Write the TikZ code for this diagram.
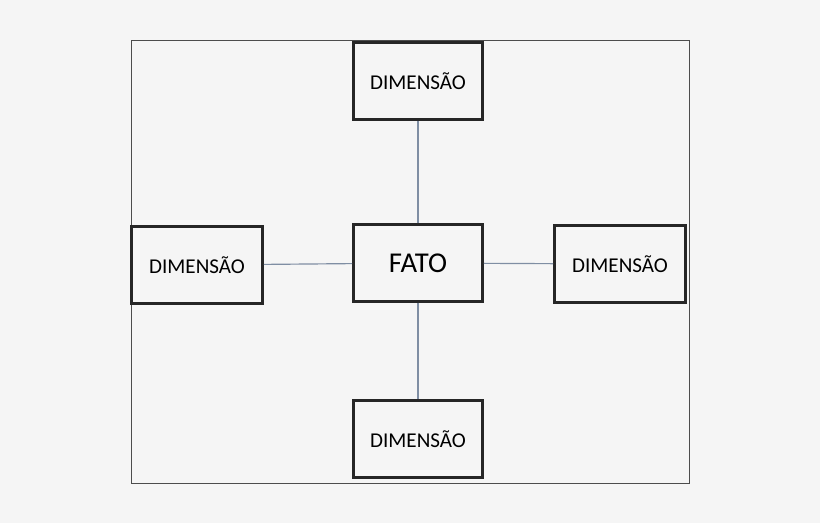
\documentclass[tikz,border=0pt]{standalone}
\usepackage{fontspec}
\setmainfont{Carlito}
\usetikzlibrary{positioning}
\definecolor{bgcol}{HTML}{F5F5F5}
\definecolor{linkcol}{HTML}{7F8EA3}
\tikzset{
	tabela/.style={draw=black!85,line width=2.2pt,fill=bgcol,minimum width=3.87cm,minimum height=2.3cm,inner sep=0pt},
	dim/.style={tabela,font=\fontsize{18}{20}\selectfont},
	elo/.style={draw=linkcol,line width=1pt}
}
\begin{document}
\begin{tikzpicture}[x=0.03cm,y=-0.03cm]
			\fill[bgcol] (0,0) rectangle (820,523);
			\useasboundingbox (0,0) rectangle (820,523);
			\draw[black!70,line width=0.8pt] (131,40) rectangle (689,483);
			\node[tabela,font=\fontsize{24.5}{27}\selectfont] (fato) at (418,263) {FATO};
			\node[dim] (cima) at (418,81) {DIMENSÃO};
			\node[dim] (baixo) at (418,439) {DIMENSÃO};
			\node[dim,minimum width=3.93cm] (esq) at (197,265) {DIMENSÃO};
			\node[dim,minimum width=3.93cm] (dir) at (620,264) {DIMENSÃO};
			\draw[elo] (fato) -- (cima);
			\draw[elo] (fato) -- (baixo);
			\draw[elo] (fato) -- (esq);
			\draw[elo] (fato) -- (dir);
		\end{tikzpicture}
\end{document}
